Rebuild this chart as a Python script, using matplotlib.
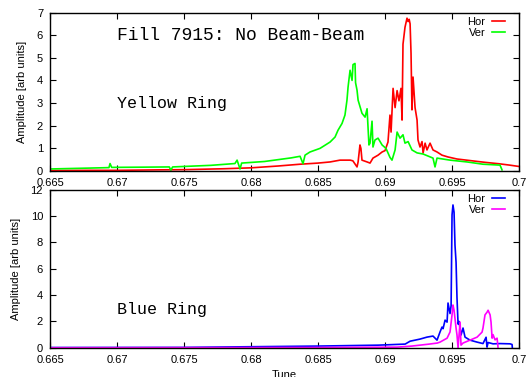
import matplotlib
matplotlib.use('Agg')
import matplotlib.pyplot as plt

# ---------------- data ----------------
# Yellow ring, horizontal (red)
yh_tune = [0.6650, 0.6680, 0.6700, 0.6730, 0.6750, 0.6780, 0.6800, 0.6820, 0.68366, 0.6850,
           0.68590, 0.68664, 0.68740, 0.68760, 0.68791, 0.68799, 0.68813, 0.68820, 0.68828, 0.68866,
           0.68888, 0.68910, 0.68948, 0.68978, 0.69000, 0.69022, 0.69037, 0.69045, 0.69060, 0.69075,
           0.69090, 0.69104, 0.69119, 0.69127, 0.69134, 0.69149, 0.69164, 0.69172, 0.69180, 0.69187,
           0.69194, 0.69201, 0.69209, 0.69224, 0.69239, 0.69246, 0.69261, 0.69276, 0.69284, 0.69299,
           0.69313, 0.69336, 0.69358, 0.69388, 0.69425, 0.69470, 0.69537, 0.69650, 0.69750, 0.69850,
           0.69930, 0.70000]
yh_amp = [0.02, 0.03, 0.03, 0.05, 0.06, 0.10, 0.14, 0.22, 0.30, 0.35,
          0.40, 0.48, 0.48, 0.45, 0.18, 0.40, 1.15, 1.00, 0.48, 0.40,
          0.35, 0.57, 0.70, 0.84, 0.90, 1.28, 2.47, 1.72, 3.65, 2.80,
          3.55, 3.10, 3.65, 2.25, 5.60, 6.35, 6.75, 6.60, 6.70, 6.50,
          5.20, 2.70, 4.15, 2.80, 2.25, 1.37, 1.06, 1.30, 0.80, 1.23,
          0.93, 1.23, 0.93, 0.84, 0.70, 0.62, 0.53, 0.45, 0.38, 0.32,
          0.26, 0.20]

# Yellow ring, vertical (green)
yv_tune = [0.6650, 0.6680, 0.66940, 0.66948, 0.66960, 0.6720, 0.67390, 0.67402, 0.67415, 0.6770,
           0.67880, 0.67896, 0.67918, 0.67930, 0.6810, 0.6830, 0.68366, 0.68388, 0.68403, 0.68440,
           0.68515, 0.68590, 0.68627, 0.68649, 0.68679, 0.68701, 0.68716, 0.68724, 0.68739, 0.68754,
           0.68761, 0.68776, 0.68780, 0.68791, 0.68799, 0.68828, 0.68851, 0.68866, 0.68873, 0.68880,
           0.68888, 0.68903, 0.68910, 0.68925, 0.68948, 0.68978, 0.69007, 0.69022, 0.69037, 0.69052,
           0.69075, 0.69090, 0.69112, 0.69134, 0.69149, 0.69172, 0.69201, 0.69239, 0.69284, 0.69358,
           0.69373, 0.69388, 0.69485, 0.69612, 0.69731, 0.69858, 0.69873]
yv_amp = [0.09, 0.13, 0.15, 0.33, 0.16, 0.17, 0.18, 0.04, 0.18, 0.25,
          0.33, 0.48, 0.09, 0.35, 0.42, 0.58, 0.65, 0.32, 0.70, 0.84,
          1.00, 1.28, 1.50, 1.80, 2.10, 2.47, 3.13, 3.70, 4.45, 4.00,
          4.70, 4.75, 3.90, 3.57, 3.13, 2.55, 2.38, 2.75, 1.94, 1.15,
          1.23, 2.20, 1.06, 1.37, 1.45, 1.15, 1.00, 0.80, 0.60, 0.48,
          0.93, 1.72, 1.45, 1.60, 1.23, 1.30, 0.93, 0.80, 0.75, 0.57,
          0.18, 0.57, 0.48, 0.40, 0.30, 0.26, 0.05]

# Blue ring, horizontal (blue)
bh_tune = [0.6650, 0.6750, 0.6800, 0.6850, 0.68950, 0.69150, 0.69187, 0.69261, 0.69313, 0.69358,
           0.69388, 0.69410, 0.69425, 0.69433, 0.69448, 0.69463, 0.69470, 0.69485, 0.69493, 0.69500,
           0.69507, 0.69515, 0.69522, 0.69530, 0.69537, 0.69545, 0.69552, 0.69567, 0.69582, 0.69597,
           0.69634, 0.69687, 0.69731, 0.69754, 0.69761, 0.69769, 0.69806, 0.69858, 0.69933, 0.69948,
           0.69950]
bh_amp = [0.02, 0.03, 0.08, 0.13, 0.20, 0.28, 0.50, 0.66, 0.81, 0.89,
          0.58, 1.19, 1.57, 1.45, 2.10, 1.95, 3.40, 2.60, 3.20, 10.10,
          10.85, 10.30, 7.80, 6.50, 3.80, 1.80, 2.00, 0.97, 1.50, 0.81,
          0.58, 0.43, 0.32, 0.80, 0.05, 0.40, 0.30, 0.32, 0.30, 0.25,
          0.00]

# Blue ring, vertical (magenta)
bv_tune = [0.6650, 0.6850, 0.6909, 0.6920, 0.6933, 0.6939, 0.69410, 0.69463, 0.69485, 0.69500,
           0.69507, 0.69515, 0.69530, 0.69537, 0.69545, 0.69560, 0.69567, 0.69582, 0.69634, 0.69687,
           0.69724, 0.69731, 0.69746, 0.69761, 0.69769, 0.69784, 0.69791, 0.69799, 0.69806, 0.69821,
           0.69836, 0.69843]
bv_amp = [0.00, 0.02, 0.05, 0.13, 0.28, 0.36, 0.43, 0.73, 1.20, 2.50,
          3.25, 2.85, 1.50, 0.97, 0.00, 1.95, 0.20, 0.36, 0.58, 0.81,
          1.19, 1.50, 2.50, 2.70, 2.85, 2.50, 1.95, 0.73, 1.00, 0.60,
          0.73, 0.05]

xticks = [0.665, 0.67, 0.675, 0.68, 0.685, 0.69, 0.695, 0.7]
xticklabels = ['0.665', '0.67', '0.675', '0.68', '0.685', '0.69', '0.695', '0.7']

# ---------------- figure ----------------
plt.rcParams['font.family'] = ['Liberation Sans', 'DejaVu Sans']
plt.rcParams['font.size'] = 8

fig = plt.figure(figsize=(5.27, 3.77), dpi=100)
ax1 = fig.add_axes([0.0949, 0.5464, 0.890, 0.4204])
ax2 = fig.add_axes([0.0949, 0.0775, 0.890, 0.419])


def style(ax, ymax, ystep):
    ax.set_xlim(0.665, 0.7)
    ax.set_ylim(0, ymax)
    ax.set_xticks(xticks)
    ax.set_xticklabels(xticklabels)
    ax.set_yticks(range(0, ymax + 1, ystep))
    ax.tick_params(direction='in', length=4, width=0.8, top=True, right=True,
                   labelsize=8, pad=5)
    for s in ax.spines.values():
        s.set_linewidth(1.0)
    ax.set_ylabel('Amplitude [arb units]', fontsize=8, labelpad=7)


ax1.plot(yh_tune, yh_amp, color='#ff0000', lw=1.2, label='Hor')
ax1.plot(yv_tune, yv_amp, color='#00ff00', lw=1.2, label='Ver')
style(ax1, 7, 1)
ax1.text(0.670, 6.0, 'Fill 7915: No Beam-Beam', family='Liberation Mono',
         fontsize=13, va='center', ha='left')
ax1.text(0.670, 3.0, 'Yellow Ring', family='Liberation Mono',
         fontsize=12, va='center', ha='left')
ax1.legend(loc='upper right', bbox_to_anchor=(0.98, 1.0), borderaxespad=0,
           frameon=False, markerfirst=False, handlelength=1.2, handletextpad=0.6,
           labelspacing=0.1, fontsize=8)

ax2.plot(bh_tune, bh_amp, color='#0000ff', lw=1.2, label='Hor')
ax2.plot(bv_tune, bv_amp, color='#ff00ff', lw=1.2, label='Ver')
style(ax2, 12, 2)
ax2.text(0.670, 2.9, 'Blue Ring', family='Liberation Mono',
         fontsize=12, va='center', ha='left')
ax2.legend(loc='upper right', bbox_to_anchor=(0.98, 1.0), borderaxespad=0,
           frameon=False, markerfirst=False, handlelength=1.2, handletextpad=0.6,
           labelspacing=0.1, fontsize=8)
ax2.set_xlabel('Tune', fontsize=8, labelpad=4)

fig.savefig('out.png', dpi=100)
